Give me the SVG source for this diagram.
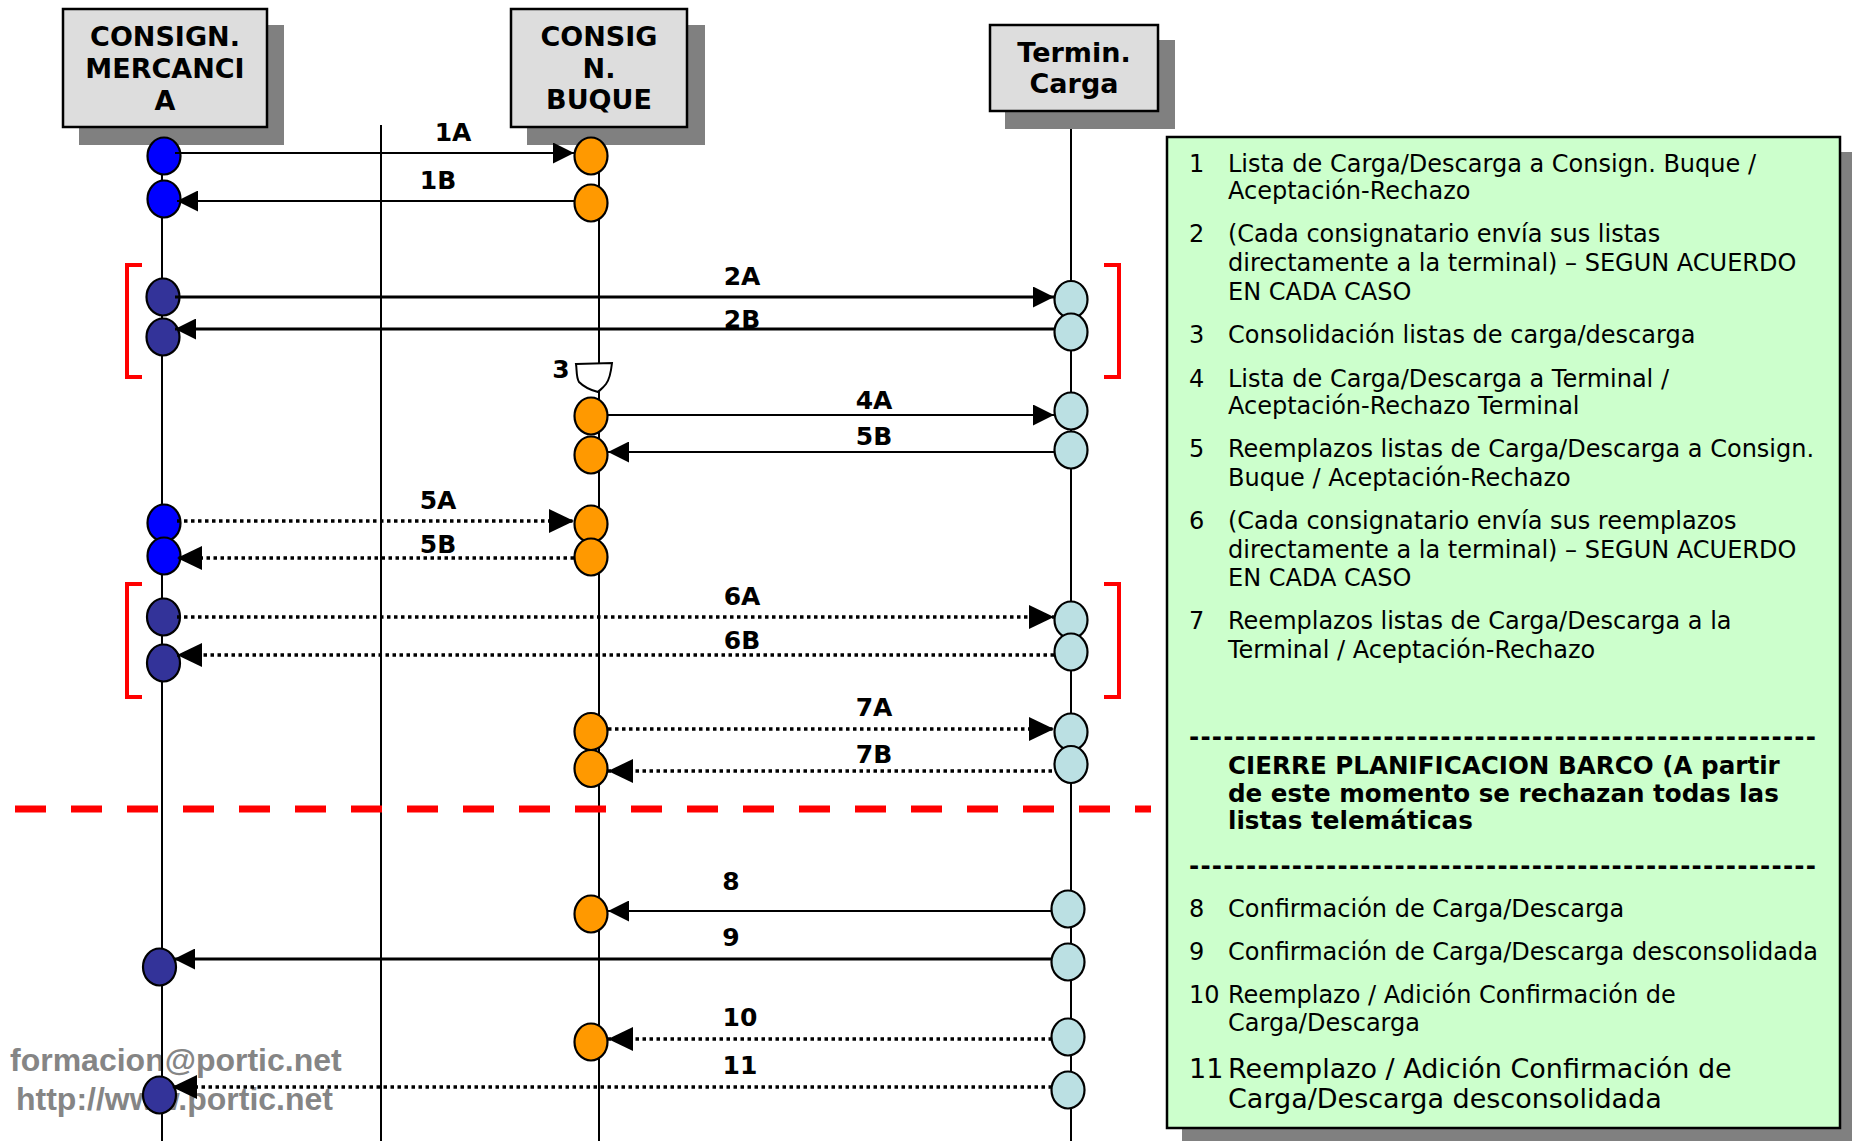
<svg xmlns="http://www.w3.org/2000/svg" width="1852" height="1141" viewBox="0 0 1852 1141">
<style>
.bg{fill:#ffffff}
.shadow{fill:#808080}
.hdr{fill:#dddddd;stroke:#000;stroke-width:2.5}
.hdrt{font-family:"DejaVu Sans",Verdana,sans-serif;font-weight:bold;font-size:27px;fill:#000;text-anchor:middle}
.life{stroke:#000;stroke-width:2;fill:none}
.act{stroke:#000;stroke-width:2.2}
.blue{fill:#0000ff}
.orange{fill:#ff9900}
.dark{fill:#333399}
.light{fill:#bbe0e3}
.solid{stroke:#000;stroke-width:2;fill:none}
.thick{stroke:#000;stroke-width:3;fill:none}
.dot{stroke:#000;stroke-width:3.5;stroke-dasharray:3.5 3.5;fill:none}
.lbl{font-family:"DejaVu Sans",Verdana,sans-serif;font-weight:bold;font-size:25px;fill:#000;text-anchor:middle}
.brk{stroke:#ff0000;stroke-width:4;fill:none}
.leg{font-family:"DejaVu Sans",Verdana,sans-serif;font-size:24px;fill:#000}
.legb{font-family:"DejaVu Sans",Verdana,sans-serif;font-size:24.6px;font-weight:bold;fill:#000}
.big{font-size:27px}
.wm{font-family:"Liberation Sans",Arial,sans-serif;font-weight:bold;font-size:32px;fill:#858585}
</style>
<defs>
<marker id="a" markerUnits="userSpaceOnUse" markerWidth="21" markerHeight="21" viewBox="0 0 21 21" refX="21" refY="10.5" orient="auto"><path d="M0,0 L21,10.5 L0,21 Z" fill="#000"/></marker>
<marker id="ad" markerUnits="userSpaceOnUse" markerWidth="25" markerHeight="24" viewBox="0 0 25 24" refX="25" refY="12" orient="auto"><path d="M0,0 L25,12 L0,24 Z" fill="#000"/></marker>
</defs>
<rect class="bg" x="0" y="0" width="1852" height="1141"/>

<text class="wm" x="10" y="1071">formacion@portic.net</text>
<text class="wm" x="16" y="1110">http://www.portic.net</text>

<g id="lifelines">
<line class="life" x1="162" y1="127" x2="162" y2="1141"/>
<line class="life" x1="381" y1="125" x2="381" y2="1141"/>
<line class="life" x1="599" y1="127" x2="599" y2="1141"/>
<line class="life" x1="1071" y1="111" x2="1071" y2="1141"/>
</g>

<g id="consign-mercancia">
<rect class="shadow" x="79" y="25" width="205" height="120"/>
<rect class="hdr" x="63" y="9" width="204" height="118"/>
<text class="hdrt" x="165" y="46">CONSIGN.</text>
<text class="hdrt" x="165" y="78">MERCANCI</text>
<text class="hdrt" x="165" y="110">A</text>
</g>
<g id="consign-buque">
<rect class="shadow" x="527" y="25" width="178" height="120"/>
<rect class="hdr" x="511" y="9" width="176" height="118"/>
<text class="hdrt" x="599" y="46">CONSIG</text>
<text class="hdrt" x="599" y="78">N.</text>
<text class="hdrt" x="599" y="109">BUQUE</text>
</g>
<g id="termin-carga">
<rect class="shadow" x="1005" y="40" width="170" height="89"/>
<rect class="hdr" x="990" y="25" width="168" height="86"/>
<text class="hdrt" x="1074" y="62">Termin.</text>
<text class="hdrt" x="1074" y="93">Carga</text>
</g>

<g id="brackets">
<path class="brk" d="M142,265 L127,265 L127,377 L142,377"/>
<path class="brk" d="M1104,265 L1119,265 L1119,377 L1104,377"/>
<path class="brk" d="M142,584 L127,584 L127,697 L142,697"/>
<path class="brk" d="M1104,584 L1119,584 L1119,697 L1104,697"/>
</g>

<g id="act-mercancia">
<ellipse class="act blue" cx="164" cy="156" rx="16.5" ry="18.5"/>
<ellipse class="act blue" cx="164" cy="199" rx="16.5" ry="18.5"/>
<ellipse class="act dark" cx="163" cy="297" rx="16.5" ry="18.5"/>
<ellipse class="act dark" cx="163" cy="337" rx="16.5" ry="18.5"/>
<ellipse class="act blue" cx="164" cy="523" rx="16.5" ry="18.5"/>
<ellipse class="act blue" cx="164" cy="556" rx="16.5" ry="18.5"/>
<ellipse class="act dark" cx="163.5" cy="617" rx="16.5" ry="18.5"/>
<ellipse class="act dark" cx="163.5" cy="663" rx="16.5" ry="18.5"/>
<ellipse class="act dark" cx="159.5" cy="967" rx="16.5" ry="18.5"/>
<ellipse class="act dark" cx="159.5" cy="1095" rx="16.5" ry="18.5"/>
</g>

<g id="act-buque">
<ellipse class="act orange" cx="591" cy="156" rx="16.5" ry="18.5"/>
<ellipse class="act orange" cx="591" cy="203" rx="16.5" ry="18.5"/>
<path d="M576,364 L612,363 C611,372 610,379 606,384 C603,388 600,390 598,392 C590,390 583,386 579,382 C576,377 577,370 576,364 Z" fill="#fff" stroke="#000" stroke-width="2"/>
<text class="lbl" x="561" y="378">3</text>
<ellipse class="act orange" cx="591" cy="416" rx="16.5" ry="18.5"/>
<ellipse class="act orange" cx="591" cy="455" rx="16.5" ry="18.5"/>
<ellipse class="act orange" cx="591" cy="524" rx="16.5" ry="18.5"/>
<ellipse class="act orange" cx="591" cy="557" rx="16.5" ry="18.5"/>
<ellipse class="act orange" cx="591" cy="731.5" rx="16.5" ry="18.5"/>
<ellipse class="act orange" cx="591" cy="768.5" rx="16.5" ry="18.5"/>
<ellipse class="act orange" cx="591" cy="914" rx="16.5" ry="18.5"/>
<ellipse class="act orange" cx="591" cy="1042" rx="16.5" ry="18.5"/>
</g>

<g id="act-terminal">
<ellipse class="act light" cx="1071" cy="299.5" rx="16.5" ry="18.5"/>
<ellipse class="act light" cx="1071" cy="332" rx="16.5" ry="18.5"/>
<ellipse class="act light" cx="1071" cy="411" rx="16.5" ry="18.5"/>
<ellipse class="act light" cx="1071" cy="450" rx="16.5" ry="18.5"/>
<ellipse class="act light" cx="1071" cy="620" rx="16.5" ry="18.5"/>
<ellipse class="act light" cx="1071" cy="652" rx="16.5" ry="18.5"/>
<ellipse class="act light" cx="1071" cy="732" rx="16.5" ry="18.5"/>
<ellipse class="act light" cx="1071" cy="764.5" rx="16.5" ry="18.5"/>
<ellipse class="act light" cx="1068" cy="909" rx="16.5" ry="18.5"/>
<ellipse class="act light" cx="1068" cy="962" rx="16.5" ry="18.5"/>
<ellipse class="act light" cx="1068" cy="1037" rx="16.5" ry="18.5"/>
<ellipse class="act light" cx="1068" cy="1090" rx="16.5" ry="18.5"/>
</g>

<g id="connectors">
<line class="solid" x1="175" y1="153" x2="574" y2="153" marker-end="url(#a)"/>
<line class="solid" x1="574" y1="201" x2="177" y2="201" marker-end="url(#a)"/>
<line class="thick" x1="175" y1="297" x2="1054" y2="297" marker-end="url(#a)"/>
<line class="thick" x1="1055" y1="329" x2="175" y2="329" marker-end="url(#a)"/>
<line class="solid" x1="607" y1="415" x2="1054" y2="415" marker-end="url(#a)"/>
<line class="solid" x1="1054" y1="452" x2="608" y2="452" marker-end="url(#a)"/>
<line class="dot" x1="177" y1="521" x2="574" y2="521" marker-end="url(#ad)"/>
<line class="dot" x1="574" y1="558" x2="177" y2="558" marker-end="url(#ad)"/>
<line class="dot" x1="177" y1="617" x2="1054" y2="617" marker-end="url(#ad)"/>
<line class="dot" x1="1054" y1="655" x2="177" y2="655" marker-end="url(#ad)"/>
<line class="dot" x1="608" y1="729" x2="1054" y2="729" marker-end="url(#ad)"/>
<line class="dot" x1="1052" y1="771" x2="608" y2="771" marker-end="url(#ad)"/>
<line class="solid" x1="1052" y1="911" x2="608" y2="911" marker-end="url(#a)"/>
<line class="thick" x1="1052" y1="959" x2="174" y2="959" marker-end="url(#a)"/>
<line class="dot" x1="1052" y1="1039" x2="608" y2="1039" marker-end="url(#ad)"/>
<line class="dot" x1="1052" y1="1087" x2="172" y2="1087" marker-end="url(#ad)"/>
</g>

<g id="labels">
<text class="lbl" x="453" y="141">1A</text>
<text class="lbl" x="438" y="189">1B</text>
<text class="lbl" x="742" y="285">2A</text>
<text class="lbl" x="742" y="328">2B</text>
<text class="lbl" x="874" y="409">4A</text>
<text class="lbl" x="874" y="445">5B</text>
<text class="lbl" x="438" y="509">5A</text>
<text class="lbl" x="438" y="553">5B</text>
<text class="lbl" x="742" y="605">6A</text>
<text class="lbl" x="742" y="649">6B</text>
<text class="lbl" x="874" y="716">7A</text>
<text class="lbl" x="874" y="763">7B</text>
<text class="lbl" x="731" y="890">8</text>
<text class="lbl" x="731" y="946">9</text>
<text class="lbl" x="740" y="1026">10</text>
<text class="lbl" x="740" y="1074">11</text>
</g>

<path d="M15,809 H1151" stroke="#ff0000" stroke-width="7" stroke-dasharray="31 25" fill="none"/>

<g id="legend">
<rect class="shadow" x="1182" y="152" width="670" height="989"/>
<rect x="1167" y="137" width="673" height="991" fill="#ccffcc" stroke="#000" stroke-width="2.5"/>
<text class="leg" x="1189" y="172">1</text>
<text class="leg" x="1228" y="172">Lista de Carga/Descarga a Consign. Buque /</text>
<text class="leg" x="1228" y="199">Aceptación-Rechazo</text>
<text class="leg" x="1189" y="242">2</text>
<text class="leg" x="1228" y="242">(Cada consignatario envía sus listas</text>
<text class="leg" x="1228" y="271">directamente a la terminal) – SEGUN ACUERDO</text>
<text class="leg" x="1228" y="300">EN CADA CASO</text>
<text class="leg" x="1189" y="343">3</text>
<text class="leg" x="1228" y="343">Consolidación listas de carga/descarga</text>
<text class="leg" x="1189" y="387">4</text>
<text class="leg" x="1228" y="387">Lista de Carga/Descarga a Terminal /</text>
<text class="leg" x="1228" y="414">Aceptación-Rechazo Terminal</text>
<text class="leg" x="1189" y="457">5</text>
<text class="leg" x="1228" y="457">Reemplazos listas de Carga/Descarga a Consign.</text>
<text class="leg" x="1228" y="486">Buque / Aceptación-Rechazo</text>
<text class="leg" x="1189" y="529">6</text>
<text class="leg" x="1228" y="529">(Cada consignatario envía sus reemplazos</text>
<text class="leg" x="1228" y="558">directamente a la terminal) – SEGUN ACUERDO</text>
<text class="leg" x="1228" y="586">EN CADA CASO</text>
<text class="leg" x="1189" y="629">7</text>
<text class="leg" x="1228" y="629">Reemplazos listas de Carga/Descarga a la</text>
<text class="leg" x="1228" y="658">Terminal / Aceptación-Rechazo</text>
<text class="legb" x="1189" y="745" textLength="627" lengthAdjust="spacing">-------------------------------------------------------</text>
<text class="legb" x="1228" y="774">CIERRE PLANIFICACION BARCO (A partir</text>
<text class="legb" x="1228" y="802">de este momento se rechazan todas las</text>
<text class="legb" x="1228" y="829">listas telemáticas</text>
<text class="legb" x="1189" y="874" textLength="627" lengthAdjust="spacing">-------------------------------------------------------</text>
<text class="leg" x="1189" y="917">8</text>
<text class="leg" x="1228" y="917">Confirmación de Carga/Descarga</text>
<text class="leg" x="1189" y="960">9</text>
<text class="leg" x="1228" y="960">Confirmación de Carga/Descarga desconsolidada</text>
<text class="leg" x="1189" y="1003">10</text>
<text class="leg" x="1228" y="1003">Reemplazo / Adición Confirmación de</text>
<text class="leg" x="1228" y="1031">Carga/Descarga</text>
<text class="leg big" x="1189" y="1078">11</text>
<text class="leg big" x="1228" y="1078">Reemplazo / Adición Confirmación de</text>
<text class="leg big" x="1228" y="1108">Carga/Descarga desconsolidada</text>
</g>
</svg>
